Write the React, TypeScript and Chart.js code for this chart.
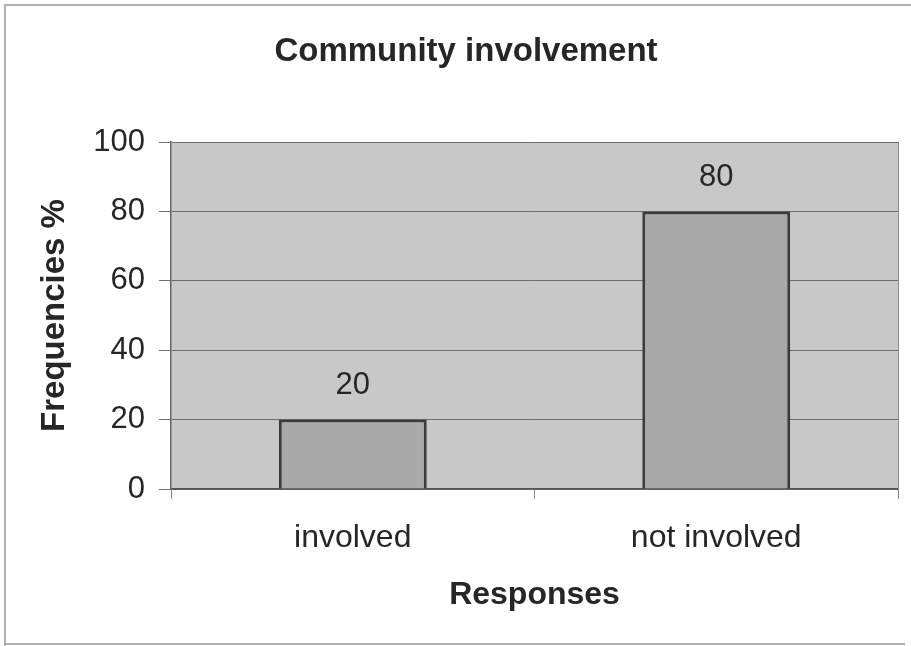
import React, { useEffect, useRef } from "react";
import { Chart, registerables } from "chart.js";

Chart.register(...registerables);

const categories: string[] = ["involved", "not involved"];
const frequencies: number[] = [20, 80];
const yTicks: number[] = [0, 20, 40, 60, 80, 100];
const chartTitle = "Community involvement";
const xTitle = "Responses";
const yTitle = "Frequencies %";

const FONT = "'Liberation Sans', Arial, sans-serif";
const TEXT = "#262626";

const plotBg = {
  id: "plotBg",
  beforeDraw(chart: any) {
    const { ctx, chartArea: a } = chart;
    ctx.save();
    ctx.fillStyle = "#ffffff";
    ctx.fillRect(0, 0, chart.width, chart.height);
    ctx.fillStyle = "#c8c8c8";
    ctx.fillRect(a.left, a.top, a.right - a.left, a.bottom - a.top);
    ctx.restore();
  },
  afterDraw(chart: any) {
    const { ctx, chartArea: a } = chart;
    ctx.save();
    ctx.strokeStyle = "#8a8a8a";
    ctx.lineWidth = 1;
    ctx.beginPath();
    ctx.moveTo(a.right + 0.5, a.top);
    ctx.lineTo(a.right + 0.5, a.bottom);
    ctx.stroke();
    // outer frame
    ctx.strokeStyle = "#b0b0b0";
    ctx.lineWidth = 2;
    ctx.beginPath();
    ctx.moveTo(911, 5);
    ctx.lineTo(5, 5);
    ctx.lineTo(5, 646);
    ctx.moveTo(5, 644);
    ctx.lineTo(905, 644);
    ctx.stroke();
    // chart title
    ctx.fillStyle = TEXT;
    ctx.font = `bold 33px ${FONT}`;
    ctx.textAlign = "center";
    ctx.textBaseline = "middle";
    ctx.fillText(chartTitle, 466, 52);
    ctx.restore();
  },
};

const valueLabels = {
  id: "valueLabels",
  afterDatasetsDraw(chart: any) {
    const { ctx } = chart;
    const meta = chart.getDatasetMeta(0);
    ctx.save();
    ctx.fillStyle = TEXT;
    ctx.font = `31px ${FONT}`;
    ctx.textAlign = "center";
    ctx.textBaseline = "middle";
    meta.data.forEach((bar: any, i: number) => {
      ctx.fillText(String(frequencies[i]), bar.x, bar.y - 34);
    });
    ctx.restore();
  },
};

export default function App() {
  const ref = useRef<HTMLCanvasElement | null>(null);

  useEffect(() => {
    if (!ref.current) return;
    const chart = new Chart(ref.current, {
      type: "bar",
      data: {
        labels: categories,
        datasets: [
          {
            data: frequencies,
            backgroundColor: "#a9a9a9",
            borderColor: "#3c3c3c",
            borderWidth: 3,
            categoryPercentage: 1,
            barPercentage: 0.407,
          },
        ],
      },
      options: {
        animation: false,
        responsive: false,
        maintainAspectRatio: false,
        layout: { padding: { left: 0, right: 13, top: 142, bottom: 0 } },
        plugins: {
          legend: { display: false },
          tooltip: { enabled: false },
          title: { display: false },
        },
        scales: {
          x: {
            type: "category",
            offset: true,
            afterFit(scale: any) {
              scale.height = 157;
            },
            grid: {
              display: true,
              offset: true,
              drawOnChartArea: false,
              drawTicks: true,
              tickLength: 10,
              color: "#8a8a8a",
            },
            border: { display: true, color: "#555555", width: 1.5 },
            ticks: {
              color: TEXT,
              font: { family: FONT, size: 32 },
              padding: 20,
              maxRotation: 0,
            },
            title: {
              display: true,
              text: xTitle,
              color: TEXT,
              font: { family: FONT, size: 32, weight: "bold" },
              padding: { top: 0, bottom: 32 },
            },
          },
          y: {
            min: 0,
            max: 100,
            afterFit(scale: any) {
              scale.width = 171;
            },
            afterBuildTicks(scale: any) {
              scale.ticks = yTicks.map((v) => ({ value: v }));
            },
            grid: {
              color: "#6e6e6e",
              lineWidth: 1,
              drawTicks: true,
              tickLength: 12,
            },
            border: { display: true, color: "#666666", width: 1.5 },
            ticks: {
              color: TEXT,
              font: { family: FONT, size: 31 },
              padding: 14,
            },
            title: {
              display: true,
              text: yTitle,
              color: TEXT,
              font: { family: FONT, size: 33, weight: "bold" },
              padding: { top: 35, bottom: 0 },
            },
          },
        },
      },
      plugins: [plotBg, valueLabels],
    });
    return () => chart.destroy();
  }, []);

  return (
    <div style={{ position: "absolute", left: 0, top: 0, width: 911, height: 646 }}>
      <canvas ref={ref} width={911} height={646} style={{ width: 911, height: 646, display: "block" }} />
    </div>
  );
}
